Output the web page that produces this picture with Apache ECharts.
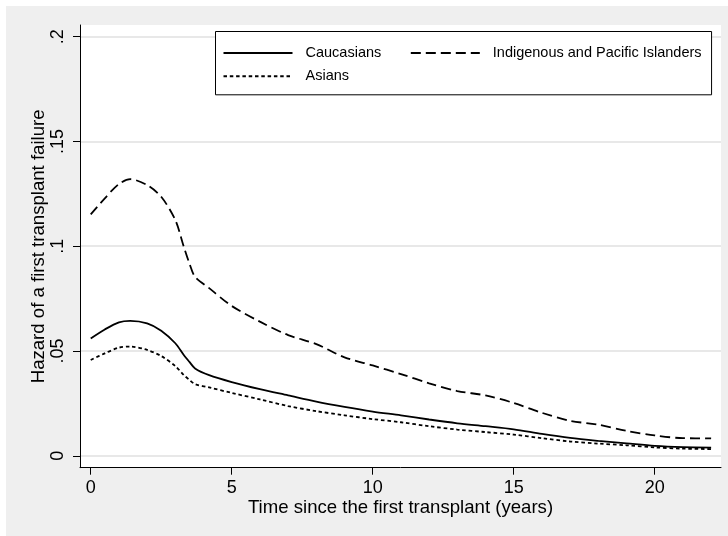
<!DOCTYPE html>
<html>
<head>
<meta charset="utf-8">
<script src="https://cdn.jsdelivr.net/npm/echarts@6/dist/echarts.min.js"></script>
<style>
html,body{margin:0;padding:0;background:#fff;}
#chart{width:728px;height:536px;}
</style>
</head>
<body>
<div id="chart"></div>
<script>
// ---- data ----
var years = [0, 0.5, 1, 1.4, 2, 2.5, 3, 3.3, 3.5, 3.7, 4.2, 5, 6, 7, 8, 9, 10, 11, 12, 13, 14, 15, 16, 17, 18, 19, 20, 21, 22];
var caucasians = [0.0560, 0.0603, 0.0637, 0.0644, 0.0632, 0.0597, 0.0537, 0.0481, 0.0448, 0.0417, 0.0385, 0.0352, 0.0318, 0.0288, 0.0258, 0.0233, 0.0211, 0.0193, 0.0173, 0.0155, 0.0141, 0.0126, 0.0104, 0.0085, 0.0071, 0.0059, 0.0047, 0.0041, 0.0039];
var indigenous = [0.1152, 0.1229, 0.1297, 0.1320, 0.1292, 0.1236, 0.1125, 0.0998, 0.0918, 0.0854, 0.0800, 0.0715, 0.0640, 0.0576, 0.0533, 0.0470, 0.0431, 0.0390, 0.0346, 0.0309, 0.0288, 0.0252, 0.0205, 0.0167, 0.0148, 0.0119, 0.0097, 0.0084, 0.0083];
var asians = [0.0457, 0.0489, 0.0516, 0.0521, 0.0505, 0.0476, 0.0428, 0.0385, 0.0362, 0.0342, 0.0326, 0.0300, 0.0269, 0.0237, 0.0213, 0.0193, 0.0175, 0.0160, 0.0141, 0.0125, 0.0113, 0.0101, 0.0084, 0.0068, 0.0058, 0.0050, 0.0040, 0.0034, 0.0032];
var seriesNames = ['Caucasians', 'Indigenous and Pacific Islanders', 'Asians'];
var xTicks = [0, 5, 10, 15, 20];
var yTicks = [0, 0.05, 0.1, 0.15, 0.2];
var yTickLabels = ['0', '.05', '.1', '.15', '.2'];
var xTitle = 'Time since the first transplant (years)';
var yTitle = 'Hazard of a first transplant failure';

function pairs(vals) { return years.map(function (t, i) { return [t, vals[i]]; }); }

var FONT = '"Liberation Sans", Arial, Helvetica, sans-serif';
var chart = echarts.init(document.getElementById('chart'), null, {renderer: 'canvas'});

var option = {
  animation: false,
  backgroundColor: '#efefef',
  graphic: [
    {type: 'rect', left: 0, top: 0, shape: {width: 6, height: 536}, style: {fill: '#fff'}, silent: true},
    {type: 'rect', left: 0, top: 0, shape: {width: 728, height: 6}, style: {fill: '#fff'}, silent: true}
  ],
  grid: {
    left: 80, top: 25, right: 7, bottom: 68.3,
    show: true, backgroundColor: '#fff', borderWidth: 0
  },
  legend: {
    left: 215.5, top: 31.5,
    orient: 'horizontal',
    padding: [14, 10, 11, 7],
    itemGap: 8.3,
    itemWidth: 69, itemHeight: 14,
    backgroundColor: '#fff', borderColor: '#000', borderWidth: 1, borderRadius: 0,
    itemStyle: {color: 'rgba(0,0,0,0)', borderWidth: 0, opacity: 0},
    textStyle: {fontFamily: FONT, fontSize: 14.5, color: '#000', padding: [0, 0, 0, 8], lineHeight: 14},
    data: [
      {name: seriesNames[0], textStyle: {width: 96}},
      {name: seriesNames[1]},
      '',
      {name: seriesNames[2]}
    ]
  },
  xAxis: {
    type: 'value',
    min: -0.38, max: 22.35,
    name: xTitle,
    nameLocation: 'middle',
    nameGap: 31,
    nameMoveOverlap: false,
    nameTextStyle: {fontFamily: FONT, fontSize: 18.6, color: '#000'},
    axisLine: {show: true, onZero: false, lineStyle: {color: '#000', width: 1}},
    axisTick: {show: true, length: 7, lineStyle: {color: '#000', width: 1}, customValues: xTicks},
    axisLabel: {fontFamily: FONT, fontSize: 18, color: '#000', margin: 11, customValues: xTicks,
      formatter: function (v) { return String(v); }},
    splitLine: {show: false}
  },
  yAxis: {
    type: 'value',
    min: -0.0057, max: 0.2056,
    name: yTitle,
    nameLocation: 'middle',
    nameGap: 32,
    nameMoveOverlap: false,
    nameTextStyle: {fontFamily: FONT, fontSize: 18.6, color: '#000'},
    axisLine: {show: true, onZero: false, lineStyle: {color: '#000', width: 1}},
    axisTick: {show: true, length: 7, lineStyle: {color: '#000', width: 1}, customValues: yTicks},
    axisLabel: {fontFamily: FONT, fontSize: 18, color: '#000', margin: 13, rotate: 90, customValues: yTicks,
      formatter: function (v) {
        for (var i = 0; i < yTicks.length; i++) { if (Math.abs(yTicks[i] - v) < 1e-9) return yTickLabels[i]; }
        return '';
      }},
    splitLine: {show: true, lineStyle: {color: '#e8e8e8', width: 2}}
  },
  series: [
    {name: seriesNames[0], type: 'line', data: pairs(caucasians), symbol: 'none', showSymbol: false, smooth: 0.3,
      lineStyle: {color: '#000', width: 1.8, type: 'solid'}, itemStyle: {color: '#000'}},
    {name: seriesNames[1], type: 'line', data: pairs(indigenous), symbol: 'none', showSymbol: false, smooth: 0.3,
      lineStyle: {color: '#000', width: 1.8, type: [10, 5]}, itemStyle: {color: '#000'}},
    {name: seriesNames[2], type: 'line', data: pairs(asians), symbol: 'none', showSymbol: false, smooth: 0.3,
      lineStyle: {color: '#000', width: 1.8, type: [3.5, 2.8]}, itemStyle: {color: '#000'}}
  ]
};
chart.setOption(option);
</script>
</body>
</html>
